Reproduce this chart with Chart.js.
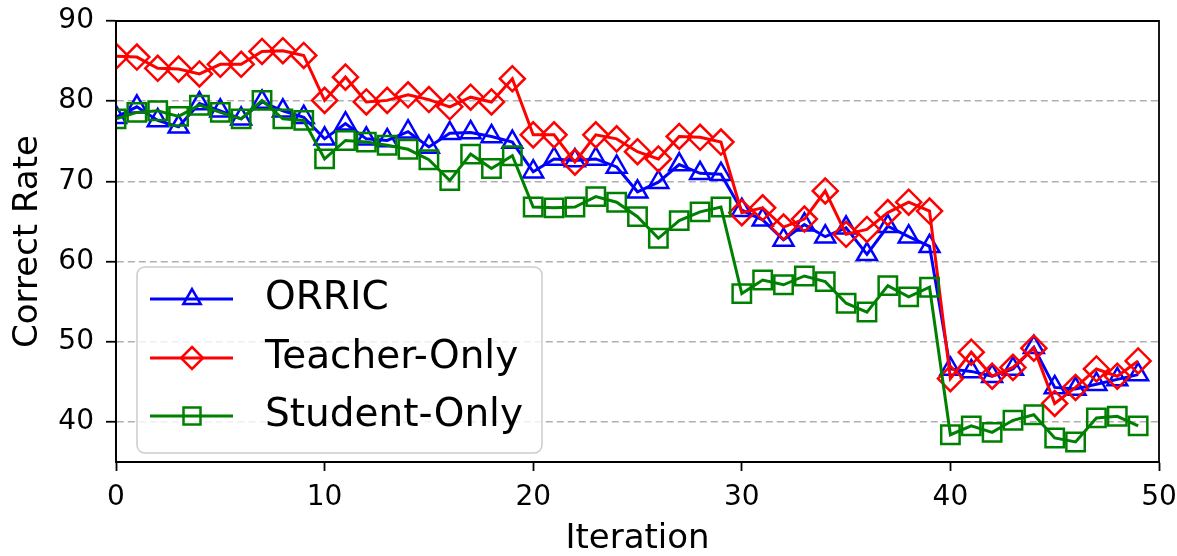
<!DOCTYPE html>
<html lang="en">
<head>
<meta charset="UTF-8">
<title>Correct Rate vs Iteration</title>
<script src="https://cdn.jsdelivr.net/npm/chart.js"></script>
<style>
  html, body { margin: 0; padding: 0; background: #fff; }
</style>
</head>
<body>
<canvas id="chart" width="1177" height="556"></canvas>
<script>
// data
var iterations = [0,1,2,3,4,5,6,7,8,9,10,11,12,13,14,15,16,17,18,19,20,21,22,23,24,
                  25,26,27,28,29,30,31,32,33,34,35,36,37,38,39,40,41,42,43,44,45,46,47,48,49];
var orric = [78.0,79.3,77.6,76.8,79.7,78.8,77.8,79.9,78.8,78.0,
             75.3,77.2,75.3,75.1,76.2,74.3,76.0,76.1,75.6,74.9,
             71.2,72.8,72.6,72.8,71.8,68.7,69.9,72.1,71.0,70.9,
             66.4,65.2,62.7,64.6,63.1,64.2,60.9,64.4,63.1,61.9,
             46.6,46.3,45.7,46.6,49.3,44.3,44.1,44.7,45.3,45.9];
var teacherOnly = [85.6,85.5,84.1,84.0,83.4,84.6,84.6,86.2,86.3,85.7,
                   80.1,83.0,79.9,80.1,80.8,80.2,79.3,80.5,79.9,82.8,
                   75.8,75.8,72.4,75.8,75.3,73.7,72.8,75.6,75.5,74.9,
                   66.1,66.7,64.3,65.3,68.8,63.4,64.0,66.1,67.4,66.3,
                   45.4,48.7,45.7,46.8,49.2,42.3,44.3,46.6,45.7,47.6];
var studentOnly = [77.8,78.6,78.8,78.1,79.5,78.6,77.8,80.1,77.8,77.6,
                   72.8,75.1,74.9,74.5,74.0,72.7,70.1,73.4,71.6,73.2,
                   66.8,66.7,66.8,68.1,67.4,65.6,62.9,65.1,66.2,66.8,
                   56.0,57.7,57.1,58.2,57.5,54.8,53.7,57.0,55.6,56.8,
                   38.4,39.5,38.7,40.2,40.9,38.0,37.5,40.5,40.7,39.5];
var xTicks = [0,10,20,30,40,50];
var yTicks = [40,50,60,70,80,90];

var FONT = 'DejaVu Sans';

function toPoints(ys) {
    var pts = [];
    for (var i = 0; i < ys.length; i++) pts.push({x: iterations[i], y: ys[i]});
    return pts;
}

function series(label, ys, color, style, radius, order) {
    return {
        label: label,
        data: toPoints(ys),
        borderColor: color,
        backgroundColor: color,
        borderWidth: 3,
        pointStyle: style,
        pointRadius: radius,
        pointBorderWidth: 2.5,
        pointBorderColor: color,
        pointBackgroundColor: 'rgba(0,0,0,0)',
        tension: 0,
        order: order
    };
}

// draw a hollow marker with the same geometry chart.js uses
function marker(c, style, x, y, r) {
    c.beginPath();
    if (style === 'triangle') {
        c.moveTo(x, y - r);
        c.lineTo(x + r * Math.sin(2 * Math.PI / 3), y + r / 2);
        c.lineTo(x - r * Math.sin(2 * Math.PI / 3), y + r / 2);
    } else if (style === 'rectRot') {
        c.moveTo(x, y - r); c.lineTo(x + r, y); c.lineTo(x, y + r); c.lineTo(x - r, y);
    } else {
        var s = r * Math.SQRT1_2;
        c.rect(x - s, y - s, 2 * s, 2 * s);
    }
    c.closePath();
    c.stroke();
}

// full box frame like the original figure
var framePlugin = {
    id: 'frame',
    afterDatasetsDraw: function(chart) {
        var c = chart.ctx, a = chart.chartArea;
        c.save();
        c.strokeStyle = '#000';
        c.lineWidth = 1.8;
        c.beginPath();
        c.rect(a.left, a.top, a.right - a.left, a.bottom - a.top);
        c.stroke();
        c.restore();
    }
};

// legend box inside the plot, lower left
var legendItems = [
    {text: 'ORRIC', ds: 0, r: 10},
    {text: 'Teacher-Only', ds: 1, r: 11},
    {text: 'Student-Only', ds: 2, r: 12}
];
var boxLegend = {
    id: 'boxLegend',
    afterDraw: function(chart) {
        var c = chart.ctx, a = chart.chartArea;
        var bx = a.left + 21, bw = 405, bh = 186;
        var by = a.bottom - 9 - bh;
        c.save();
        c.fillStyle = 'rgba(255,255,255,0.8)';
        c.strokeStyle = '#cccccc';
        c.lineWidth = 1.5;
        c.beginPath();
        c.roundRect(bx, by, bw, bh, 8);
        c.fill();
        c.stroke();
        var rows = [32, 91, 149];
        for (var i = 0; i < legendItems.length; i++) {
            var it = legendItems[i];
            var ds = chart.data.datasets[it.ds];
            var y = by + rows[i];
            c.strokeStyle = ds.borderColor;
            c.lineWidth = 3;
            c.beginPath();
            c.moveTo(bx + 13, y);
            c.lineTo(bx + 96, y);
            c.stroke();
            c.lineWidth = 2.5;
            marker(c, ds.pointStyle, bx + 55, y, it.r);
            c.fillStyle = '#000';
            c.font = '39px "' + FONT + '"';
            c.textBaseline = 'middle';
            c.textAlign = 'left';
            c.fillText(it.text, bx + 128, y);
        }
        c.restore();
    }
};

var ctx = document.getElementById('chart');
new Chart(ctx, {
    type: 'line',
    data: {
        datasets: [
            series('ORRIC', orric, '#0000ff', 'triangle', 11.5, 3),
            series('Teacher-Only', teacherOnly, '#ff0000', 'rectRot', 12.5, 2),
            series('Student-Only', studentOnly, '#008000', 'rect', 13, 1)
        ]
    },
    options: {
        responsive: false,
        animation: false,
        devicePixelRatio: 1,
        layout: { padding: { top: 21, right: 18, left: 0, bottom: 0 } },
        plugins: { legend: { display: false }, tooltip: { enabled: false } },
        scales: {
            x: {
                type: 'linear',
                min: 0, max: 50,
                afterBuildTicks: function(s) { s.ticks = xTicks.map(function(v) { return {value: v}; }); },
                afterFit: function(s) { s.height = 94; s.paddingLeft = 0; s.paddingRight = 0; },
                grid: { drawOnChartArea: false, drawTicks: true, tickLength: 9, tickColor: '#000', tickWidth: 1.8 },
                border: { display: true, color: '#000', width: 1.8 },
                ticks: { font: { family: FONT, size: 28 }, color: '#000', padding: 10, maxRotation: 0 },
                title: { display: true, text: 'Iteration', color: '#000',
                         font: { family: FONT, size: 34, lineHeight: 1 }, padding: { top: 0, bottom: 0 } }
            },
            y: {
                min: 35, max: 90,
                afterBuildTicks: function(s) { s.ticks = yTicks.map(function(v) { return {value: v}; }); },
                afterFit: function(s) { s.width = 116; s.paddingTop = 0; s.paddingBottom = 0; },
                grid: { color: '#b0b0b0', lineWidth: 1.5, drawTicks: true, tickLength: 10,
                        tickColor: '#000', tickWidth: 1.8, tickBorderDash: [] },
                border: { display: true, color: '#000', width: 1.8, dash: [7, 4] },
                ticks: { font: { family: FONT, size: 28 }, color: '#000', padding: 12 },
                title: { display: true, text: 'Correct Rate', color: '#000',
                         font: { family: FONT, size: 34 }, padding: { top: 8, bottom: 0 } }
            }
        }
    },
    plugins: [framePlugin, boxLegend]
});
</script>
</body>
</html>
